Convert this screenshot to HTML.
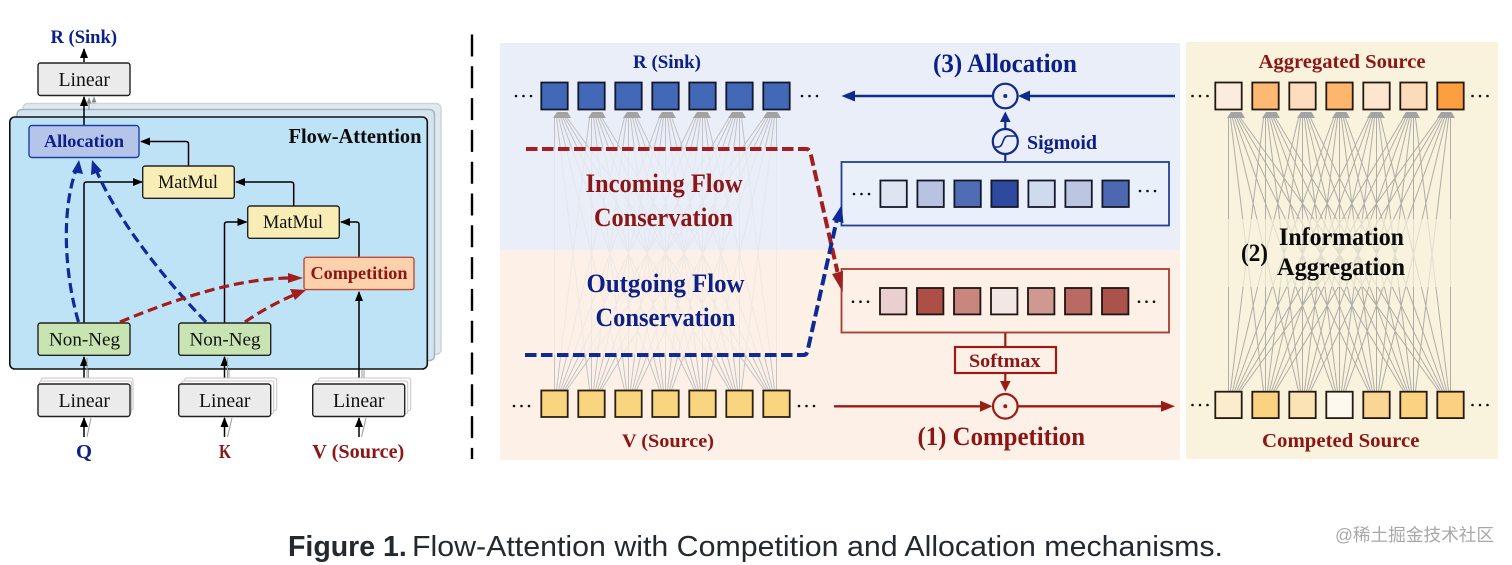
<!DOCTYPE html>
<html><head><meta charset="utf-8"><style>
html,body{margin:0;padding:0;background:#fff}
svg{display:block}
.s{font-family:"Liberation Serif",serif}
.b{font-family:"Liberation Serif",serif;font-weight:bold}
.blue{fill:#0c2088}.red{fill:#8c1515}
.dots{stroke-dasharray:0 7.5;stroke-linecap:round;stroke-width:2.6;stroke:#111;fill:none}
</style></head><body>
<svg width="1512" height="565" viewBox="0 0 1512 565" xmlns="http://www.w3.org/2000/svg">
<defs>
<path id="fan" fill="none" stroke-width="1" d="M0 390L0 117M2 390L35 117M4 390L70 117M6 390L105 117M8 390L140 117M10 390L175 117M12 390L210 117M35 390L2 117M37 390L37 117M39 390L72 117M41 390L107 117M43 390L142 117M45 390L177 117M47 390L212 117M70 390L4 117M72 390L39 117M74 390L74 117M76 390L109 117M78 390L144 117M80 390L179 117M82 390L214 117M105 390L6 117M107 390L41 117M109 390L76 117M111 390L111 117M113 390L146 117M115 390L181 117M117 390L216 117M140 390L8 117M142 390L43 117M144 390L78 117M146 390L113 117M148 390L148 117M150 390L183 117M152 390L218 117M175 390L10 117M177 390L45 117M179 390L80 117M181 390L115 117M183 390L150 117M185 390L185 117M187 390L220 117M210 390L12 117M212 390L47 117M214 390L82 117M216 390L117 117M218 390L152 117M220 390L187 117M222 390L222 117"/>
<g id="heads" fill="#a3a3a3">
<polygon points="-1.5,118 16.5,118 13,112 2.5,112"/>
<polygon points="33.5,118 51.5,118 48,112 37.5,112"/>
<polygon points="68.5,118 86.5,118 83,112 72.5,112"/>
<polygon points="103.5,118 121.5,118 118,112 107.5,112"/>
<polygon points="138.5,118 156.5,118 153,112 142.5,112"/>
<polygon points="173.5,118 191.5,118 188,112 177.5,112"/>
<polygon points="208.5,118 226.5,118 223,112 212.5,112"/>
</g>
<clipPath id="lTop"><rect x="500" y="112" width="320" height="37"/><rect x="500" y="355" width="320" height="36"/></clipPath>
<clipPath id="lMid"><rect x="500" y="149" width="320" height="206"/></clipPath>
<clipPath id="rTop"><rect x="1200" y="112" width="290" height="107"/><rect x="1200" y="287" width="290" height="104"/></clipPath>
<clipPath id="rMid"><rect x="1200" y="219" width="290" height="68"/></clipPath>
<marker id="mk" viewBox="0 0 10 8" refX="9" refY="4" markerWidth="10" markerHeight="8" markerUnits="userSpaceOnUse" orient="auto"><path d="M0 0L10 4L0 8Z" fill="#000"/></marker>
<marker id="mg" viewBox="0 0 10 8" refX="9" refY="4" markerWidth="6" markerHeight="5" markerUnits="userSpaceOnUse" orient="auto"><path d="M0 0L10 4L0 8Z" fill="#888"/></marker>
</defs>

<!-- LEFT DIAGRAM -->
<rect x="23" y="103.5" width="418" height="251" rx="5" fill="#dfe9f0" stroke="#cbd5dc" stroke-width="1.5"/>
<rect x="17" y="109.5" width="417.5" height="251" rx="5" fill="#d2e4f0" stroke="#a9b5be" stroke-width="1.5"/>
<rect x="9.8" y="117" width="417.5" height="252" rx="5" fill="#bee2f6" stroke="#111" stroke-width="1.6"/>

<text class="b blue" x="50.5" y="43" font-size="19" textLength="66.5" lengthAdjust="spacingAndGlyphs">R (Sink)</text>
<line x1="84" y1="62" x2="84" y2="49" stroke="#000" stroke-width="1.5" marker-end="url(#mk)"/>
<rect x="38" y="63" width="92" height="32.5" rx="2.5" fill="#ebebeb" stroke="#222" stroke-width="1.4"/>
<text class="s" x="58.5" y="86" font-size="20" fill="#111" textLength="51.5" lengthAdjust="spacingAndGlyphs">Linear</text>
<line x1="89" y1="110" x2="89" y2="98" stroke="#888" stroke-width="1" marker-end="url(#mg)"/>
<line x1="94" y1="104" x2="94" y2="97" stroke="#aaa" stroke-width="1" marker-end="url(#mg)"/>
<line x1="84" y1="125" x2="84" y2="97" stroke="#000" stroke-width="1.5" marker-end="url(#mk)"/>

<rect x="29" y="125.5" width="110" height="32" rx="3" fill="#b5c5e9" stroke="#1c40a8" stroke-width="1.4"/>
<text class="b blue" x="44" y="147" font-size="18" textLength="80" lengthAdjust="spacingAndGlyphs">Allocation</text>
<text class="b" x="288.5" y="143" font-size="21" fill="#0a0a0a" textLength="133" lengthAdjust="spacingAndGlyphs">Flow-Attention</text>

<g fill="none" stroke="#000" stroke-width="1.5">
<path d="M188.5 166V144Q188.5 141.5 186 141.5H141" marker-end="url(#mk)"/>
<path d="M293.7 206V184.5Q293.7 182 291 182H236" marker-end="url(#mk)"/>
<path d="M84 323V184.5Q84 182 86.5 182H142" marker-end="url(#mk)"/>
<path d="M224.5 323V224.5Q224.5 222 227 222H246.5" marker-end="url(#mk)"/>
<path d="M359 257V224.5Q359 222 356.5 222H341" marker-end="url(#mk)"/>
<path d="M359 384V292" marker-end="url(#mk)"/>
<path d="M84 384V357" marker-end="url(#mk)"/>
<path d="M224.5 384V357" marker-end="url(#mk)"/>
</g>
<g stroke="#9a9a9a" stroke-width="1" fill="none">
<path d="M87 384V358M88.5 384V370M227.5 384V358M229 384V370M362 384V370M364 384V370"/>
<path d="M87 437L91 418M227.5 437L232 418M361.5 437L366 418"/>
</g>
<g fill="none" stroke="#000" stroke-width="1.5">
<path d="M84 437V418" marker-end="url(#mk)"/>
<path d="M224.5 437V418" marker-end="url(#mk)"/>
<path d="M359 437V418" marker-end="url(#mk)"/>
</g>

<rect x="142.7" y="166" width="91.6" height="32.3" rx="2.5" fill="#f9edb6" stroke="#222" stroke-width="1.4"/>
<text class="s" x="158" y="188" font-size="19" fill="#111" textLength="60" lengthAdjust="spacingAndGlyphs">MatMul</text>
<rect x="247.7" y="206" width="91.6" height="32.3" rx="2.5" fill="#f9edb6" stroke="#222" stroke-width="1.4"/>
<text class="s" x="263" y="228" font-size="19" fill="#111" textLength="60" lengthAdjust="spacingAndGlyphs">MatMul</text>
<rect x="304" y="257.3" width="110" height="32.3" rx="2.5" fill="#fdd1ab" stroke="#bf4a3a" stroke-width="1.4"/>
<text class="b red" x="310.5" y="279" font-size="18" textLength="97" lengthAdjust="spacingAndGlyphs">Competition</text>
<rect x="38" y="323" width="92" height="32.3" rx="2.5" fill="#c7e4b2" stroke="#222" stroke-width="1.4"/>
<text class="s" x="49" y="345.5" font-size="19" fill="#111" textLength="71" lengthAdjust="spacingAndGlyphs">Non-Neg</text>
<rect x="178.7" y="323" width="92" height="32.3" rx="2.5" fill="#c7e4b2" stroke="#222" stroke-width="1.4"/>
<text class="s" x="189.5" y="345.5" font-size="19" fill="#111" textLength="71" lengthAdjust="spacingAndGlyphs">Non-Neg</text>

<!-- Linear stacks -->
<g fill="#fff" stroke="#c4c4c4" stroke-width="1">
<rect x="41" y="378" width="92" height="32.5" rx="2"/><rect x="39.5" y="381" width="92" height="32.5" rx="2"/>
<rect x="184.7" y="378" width="92" height="32.5" rx="2"/><rect x="181.7" y="381" width="92" height="32.5" rx="2"/>
<rect x="318.7" y="378" width="92" height="32.5" rx="2"/><rect x="315.7" y="381" width="92" height="32.5" rx="2"/>
</g>
<g fill="#ebebeb" stroke="#222" stroke-width="1.4">
<rect x="38" y="384" width="92" height="32.5" rx="2.5"/>
<rect x="178.7" y="384" width="92" height="32.5" rx="2.5"/>
<rect x="312.7" y="384" width="92" height="32.5" rx="2.5"/>
</g>
<g class="s" font-size="20" fill="#111">
<text x="58.5" y="407" textLength="51.5" lengthAdjust="spacingAndGlyphs">Linear</text>
<text x="199" y="407" textLength="51.5" lengthAdjust="spacingAndGlyphs">Linear</text>
<text x="333" y="407" textLength="51.5" lengthAdjust="spacingAndGlyphs">Linear</text>
</g>
<text class="b blue" x="76" y="458" font-size="20" textLength="16" lengthAdjust="spacingAndGlyphs">Q</text>
<text class="b red" x="219" y="458" font-size="20" textLength="12" lengthAdjust="spacingAndGlyphs">K</text>
<text class="b red" x="312.3" y="458" font-size="20" textLength="92" lengthAdjust="spacingAndGlyphs">V (Source)</text>

<!-- left dashed -->
<g fill="none" stroke-width="3.2" stroke-dasharray="10 5">
<path d="M78.5 322C66 280 60 215 76 170" stroke="#0f2a9c"/>
<path d="M206 322C170 285 120 225 97 172" stroke="#0f2a9c"/>
<path d="M120 322C180 297 240 278 292 278" stroke="#a21d1d"/>
<path d="M245 322Q268 306 296 294" stroke="#a21d1d"/>
</g>
<polygon points="79,160 83,174 72,172" fill="#0f2a9c"/>
<polygon points="92,160 102,171 91,175" fill="#0f2a9c"/>
<polygon points="303,278 288,283 288,273" fill="#a21d1d"/>
<polygon points="306,290 295,300 290,289" fill="#a21d1d"/>

<line x1="472" y1="34.5" x2="472" y2="459" stroke="#000" stroke-width="2.4" stroke-dasharray="22 9.8"/>

<!-- RIGHT DIAGRAM backgrounds -->
<rect x="500" y="43" width="680" height="207" fill="#e9eef9"/>
<rect x="500" y="250" width="680" height="210" fill="#fdf1e7"/>
<rect x="1186" y="42" width="312" height="417" fill="#f9f2dc"/>

<!-- left fan -->
<g clip-path="url(#lTop)"><use href="#fan" transform="translate(554.5 0)" stroke="#c2c2c2"/></g>
<g clip-path="url(#lMid)"><use href="#fan" transform="translate(554.5 0)" stroke="#dedede" opacity=".45"/></g>
<use href="#heads" transform="translate(554.5 0)"/>
<!-- right fan -->
<g clip-path="url(#rTop)"><use href="#fan" transform="translate(1228.5 1)" stroke="#aeaea8"/></g>
<g clip-path="url(#rMid)"><use href="#fan" transform="translate(1228.5 1)" stroke="#d6d4c8" opacity=".7"/></g>
<use href="#heads" transform="translate(1228.5 0)"/>

<!-- Sink squares -->
<g stroke="#14182a" stroke-width="1.8" fill="#4169b8">
<rect x="541.3" y="82.5" width="26.4" height="27"/><rect x="578.3" y="82.5" width="26.4" height="27"/><rect x="615.3" y="82.5" width="26.4" height="27"/><rect x="652.3" y="82.5" width="26.4" height="27"/><rect x="689.3" y="82.5" width="26.4" height="27"/><rect x="726.3" y="82.5" width="26.4" height="27"/><rect x="763.3" y="82.5" width="26.4" height="27"/>
</g>
<!-- Source squares -->
<g stroke="#2a2010" stroke-width="1.8" fill="#f9d57f">
<rect x="541.3" y="390.5" width="26.4" height="26.5"/><rect x="578.3" y="390.5" width="26.4" height="26.5"/><rect x="615.3" y="390.5" width="26.4" height="26.5"/><rect x="652.3" y="390.5" width="26.4" height="26.5"/><rect x="689.3" y="390.5" width="26.4" height="26.5"/><rect x="726.3" y="390.5" width="26.4" height="26.5"/><rect x="763.3" y="390.5" width="26.4" height="26.5"/>
</g>
<text class="b blue" x="633" y="68" font-size="19" textLength="68" lengthAdjust="spacingAndGlyphs">R (Sink)</text>
<text class="b red" x="622" y="447" font-size="19" textLength="92" lengthAdjust="spacingAndGlyphs">V (Source)</text>

<g class="b" font-size="26" lengthAdjust="spacingAndGlyphs">
<text class="red" x="585.5" y="192" textLength="157" lengthAdjust="spacingAndGlyphs">Incoming Flow</text>
<text class="red" x="594" y="226" textLength="139" lengthAdjust="spacingAndGlyphs">Conservation</text>
<text class="blue" x="586.5" y="292" textLength="158" lengthAdjust="spacingAndGlyphs">Outgoing Flow</text>
<text class="blue" x="595.5" y="326" textLength="140" lengthAdjust="spacingAndGlyphs">Conservation</text>
</g>

<!-- Allocation block -->
<text class="b blue" x="933" y="72" font-size="26" textLength="144" lengthAdjust="spacingAndGlyphs">(3) Allocation</text>
<g stroke="#0f2a8a" stroke-width="2.2" fill="none">
<line x1="853" y1="96" x2="993" y2="96" stroke-width="2.4"/>
<line x1="1175" y1="96" x2="1028" y2="96" stroke-width="2.4"/>
<circle cx="1005.3" cy="96" r="12.3"/>
<circle cx="1005.3" cy="141.5" r="12.5"/>
<path d="M995 147H998C1004 147 1002 136 1008 136H1016" stroke-width="1.6"/>
<line x1="1005.3" y1="128" x2="1005.3" y2="120"/>
<line x1="1005.3" y1="154" x2="1005.3" y2="162"/>
</g>
<circle cx="1005.3" cy="96" r="2" fill="#0f2a8a"/>
<polygon points="841.5,96 855,90.5 855,101.5" fill="#0f2a8a"/>
<polygon points="1018,96 1030,90.5 1030,101.5" fill="#0f2a8a"/>
<polygon points="1005.3,111.5 1000,122 1010.6,122" fill="#0f2a8a"/>
<text class="b blue" x="1027" y="149" font-size="19.5" textLength="70" lengthAdjust="spacingAndGlyphs">Sigmoid</text>
<rect x="841.5" y="162" width="327.5" height="63.5" fill="#eaf0fa" stroke="#22409a" stroke-width="1.8"/>
<g stroke="#15182a" stroke-width="1.8">
<rect x="880.4" y="180.5" width="26.4" height="26.5" fill="#dfe4f1"/>
<rect x="917.4" y="180.5" width="26.4" height="26.5" fill="#b7c3e0"/>
<rect x="954.4" y="180.5" width="26.4" height="26.5" fill="#4f6db5"/>
<rect x="991.4" y="180.5" width="26.4" height="26.5" fill="#2d4a9e"/>
<rect x="1028.4" y="180.5" width="26.4" height="26.5" fill="#d0daef"/>
<rect x="1065.4" y="180.5" width="26.4" height="26.5" fill="#bdc6e0"/>
<rect x="1102.4" y="180.5" width="26.4" height="26.5" fill="#4d67b0"/>
</g>

<!-- Competition block -->
<rect x="841.5" y="269" width="327.5" height="63.5" fill="#fdf1e7" stroke="#a83a30" stroke-width="1.8"/>
<g stroke="#1f1512" stroke-width="1.8">
<rect x="880" y="288" width="26.4" height="26.4" fill="#e9d0cf"/>
<rect x="917" y="288" width="26.4" height="26.4" fill="#ab4f47"/>
<rect x="954" y="288" width="26.4" height="26.4" fill="#c8867f"/>
<rect x="991" y="288" width="26.4" height="26.4" fill="#f2e7e5"/>
<rect x="1028" y="288" width="26.4" height="26.4" fill="#cf9890"/>
<rect x="1065" y="288" width="26.4" height="26.4" fill="#b96a62"/>
<rect x="1102" y="288" width="26.4" height="26.4" fill="#a9534c"/>
</g>
<g stroke="#9a1c14" stroke-width="2.2" fill="none">
<line x1="1005.3" y1="333" x2="1005.3" y2="347"/>
<line x1="1005.3" y1="373" x2="1005.3" y2="382"/>
<circle cx="1005.3" cy="406.3" r="12.3"/>
<line x1="834" y1="406.3" x2="982" y2="406.3" stroke-width="2.4"/>
<line x1="1018" y1="406.3" x2="1163" y2="406.3" stroke-width="2.4"/>
<rect x="955" y="347" width="101" height="26" fill="#fdf1e7"/>
</g>
<circle cx="1005.3" cy="406.3" r="2" fill="#9a1c14"/>
<polygon points="992.5,406.3 980,400.8 980,411.8" fill="#9a1c14"/>
<polygon points="1175,406.3 1161,400.8 1161,411.8" fill="#9a1c14"/>
<polygon points="1005.3,391.7 1000,381 1010.6,381" fill="#9a1c14"/>
<text class="b red" x="969" y="367" font-size="19" textLength="71.5" lengthAdjust="spacingAndGlyphs">Softmax</text>
<text class="b red" x="917.5" y="445" font-size="26" textLength="167.5" lengthAdjust="spacingAndGlyphs">(1) Competition</text>

<!-- flow dashes -->
<g fill="none" stroke-width="4">
<path d="M526 149H806Q809.5 149 810.5 153L837.5 272" stroke="#a11f1f" stroke-dasharray="11.5 4.5"/>
<path d="M525 355H804Q806.5 355 807.5 351L837 219" stroke="#0f2a96" stroke-dasharray="11.5 4.5"/>
</g>
<polygon points="842.7,292 832,274 843,271" fill="#a11f1f"/>
<polygon points="841.7,205 843.5,223 832,220" fill="#0f2a96"/>

<!-- Aggregation column -->
<g stroke="#241a10" stroke-width="1.8">
<rect x="1215.3" y="82.5" width="26.4" height="27" fill="#fcecdf"/>
<rect x="1252.3" y="82.5" width="26.4" height="27" fill="#fdb871"/>
<rect x="1289.3" y="82.5" width="26.4" height="27" fill="#fcddbf"/>
<rect x="1326.3" y="82.5" width="26.4" height="27" fill="#fdb66d"/>
<rect x="1363.3" y="82.5" width="26.4" height="27" fill="#fde5cf"/>
<rect x="1400.3" y="82.5" width="26.4" height="27" fill="#fcdaba"/>
<rect x="1437.3" y="82.5" width="26.4" height="27" fill="#fd9f41"/>
<rect x="1215.3" y="391.7" width="26.4" height="26.4" fill="#fbeccd"/>
<rect x="1252.3" y="391.7" width="26.4" height="26.4" fill="#fbd281"/>
<rect x="1289.3" y="391.7" width="26.4" height="26.4" fill="#fce3b6"/>
<rect x="1326.3" y="391.7" width="26.4" height="26.4" fill="#fef9ef"/>
<rect x="1363.3" y="391.7" width="26.4" height="26.4" fill="#fbd594"/>
<rect x="1400.3" y="391.7" width="26.4" height="26.4" fill="#fbd280"/>
<rect x="1437.3" y="391.7" width="26.4" height="26.4" fill="#fbd081"/>
</g>
<text class="b red" x="1258.5" y="68" font-size="20" textLength="167" lengthAdjust="spacingAndGlyphs">Aggregated Source</text>
<text class="b red" x="1262" y="447" font-size="20" textLength="157.5" lengthAdjust="spacingAndGlyphs">Competed Source</text>
<text class="b" x="1279" y="245" font-size="25" fill="#0a0a0a" textLength="125" lengthAdjust="spacingAndGlyphs">Information</text>
<text class="b" x="1277" y="275" font-size="25" fill="#0a0a0a" textLength="128" lengthAdjust="spacingAndGlyphs">Aggregation</text>
<text class="b" x="1241" y="261" font-size="25" fill="#0a0a0a" textLength="27" lengthAdjust="spacingAndGlyphs">(2)</text>

<!-- ellipsis dots (above boxes) -->
<g class="dots">
<path d="M516 96H534"/><path d="M802 96H820"/>
<path d="M514 406H532"/><path d="M799 406H817"/>
<path d="M854 194H872"/><path d="M1140 191H1158"/>
<path d="M853 301.7H871"/><path d="M1139 301.7H1157"/>
<path d="M1192.5 96H1210.5"/><path d="M1472.5 96H1490.5"/>
<path d="M1192.5 405H1210.5"/><path d="M1472.5 405H1490.5"/>
</g>

<!-- caption -->
<text x="288" y="556" font-family="'Liberation Sans',sans-serif" font-size="28.5" fill="#24292f"><tspan font-weight="bold">Figure 1.</tspan></text>
<text x="412" y="556" font-family="'Liberation Sans',sans-serif" font-size="28.5" fill="#24292f" textLength="811" lengthAdjust="spacingAndGlyphs">Flow-Attention with Competition and Allocation mechanisms.</text>
<text x="1335" y="541" font-family="'Liberation Sans','Noto Sans CJK SC',sans-serif" font-size="17.5" fill="#a8a8a8" textLength="159" lengthAdjust="spacingAndGlyphs">@稀土掘金技术社区</text>
</svg>
</body></html>
